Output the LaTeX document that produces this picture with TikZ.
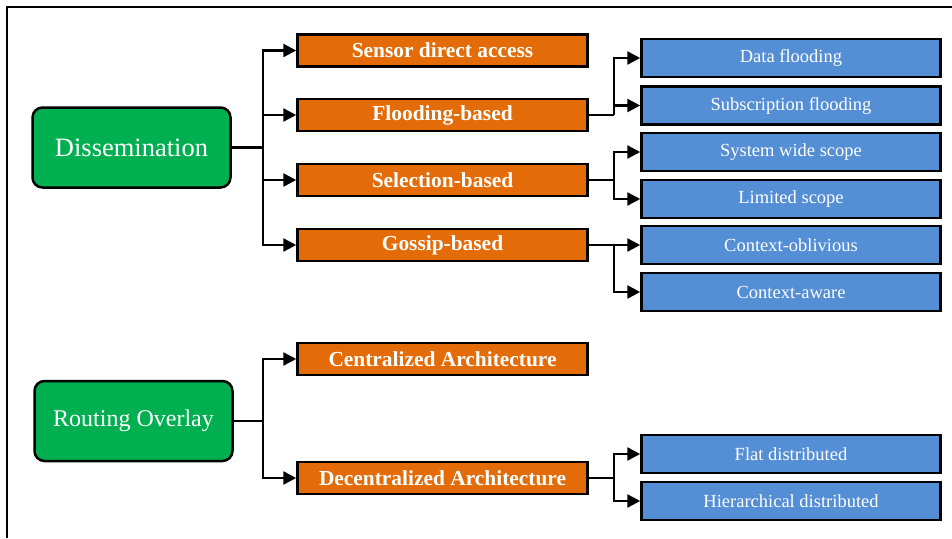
\documentclass[tikz,border=0pt]{standalone}
\usepackage{fontspec}
\setmainfont{Liberation Serif}
\usetikzlibrary{arrows.meta}
\definecolor{mygreen}{RGB}{0,176,80}
\definecolor{myorange}{RGB}{227,108,9}
\definecolor{myblue}{RGB}{84,142,213}

\begin{document}
\begin{tikzpicture}[x=1pt,y=-1pt,
        topbox/.style={draw,fill=mygreen,rounded corners=10pt,line width=2.5pt,text=white,inner sep=0pt,
            minimum width=198pt,minimum height=80pt,font=\fontsize{25}{28}\selectfont},
        midbox/.style={draw,fill=myorange,line width=2.5pt,text=white,inner sep=0pt,
            minimum width=290pt,minimum height=32pt,font=\bfseries\fontsize{21.4}{24}\selectfont},
        leafbox/.style={draw,fill=myblue,line width=2.5pt,text=white,inner sep=0pt,
            minimum width=299pt,minimum height=38pt,font=\fontsize{18.5}{20}\selectfont},
        arr/.style={-{Triangle[length=13pt,width=13pt]},line width=2.5pt}]
            \useasboundingbox (0,0) rectangle (952,538);
            \draw[line width=1.8pt] (7,538) -- (7,7) -- (952,7);
            % green roots
            \node[topbox,font=\fontsize{26.5}{28}\selectfont] (dis) at (131.5,147.5) {Dissemination};
            \node[topbox,font=\fontsize{24}{28}\selectfont] (rout) at (133.5,421) {Routing Overlay};
            % orange middle level
            \node[midbox] (sen) at (442.5,50.5) {Sensor direct access};
            \node[midbox] (flo) at (442.5,115) {Flooding-based};
            \node[midbox] (sel) at (442.5,180) {Selection-based};
            \node[midbox] (gos) at (442.5,245) {Gossip-based};
            \node[midbox] (cen) at (442.5,359) {Centralized Architecture};
            \node[midbox] (dec) at (442.5,478) {Decentralized Architecture};
            % blue leaves
            \node[leafbox] (df) at (791,58) {Data flooding};
            \node[leafbox] (sf) at (791,105.5) {Subscription flooding};
            \node[leafbox] (sw) at (791,152) {System wide scope};
            \node[leafbox] (ls) at (791,199) {Limited scope};
            \node[leafbox] (co) at (791,245) {Context-oblivious};
            \node[leafbox] (ca) at (791,292) {Context-aware};
            \node[leafbox] (fd) at (791,454) {Flat distributed};
            \node[leafbox] (hd) at (791,501) {Hierarchical distributed};
            % connectors
            \draw[line width=3.5pt] (dis.east) -- (263,147.5) coordinate (dj);
            \foreach \t in {sen,flo,sel,gos}
                \draw[arr] (dj) |- (\t.west);
            \draw[line width=2.5pt] (rout.east) -- (263,421) coordinate (rj);
            \foreach \t in {cen,dec}
                \draw[arr] (rj) |- (\t.west);
            \foreach \s/\a/\b in {flo/df/sf,sel/sw/ls,gos/co/ca,dec/fd/hd}{
                \draw[line width=2.5pt] (\s.east) -- (614,0 |- \s.east) coordinate (\s j);
                \draw[arr] (\s j) |- (\a.west);
                \draw[arr] (\s j) |- (\b.west);
            }
        \end{tikzpicture}
\end{document}
